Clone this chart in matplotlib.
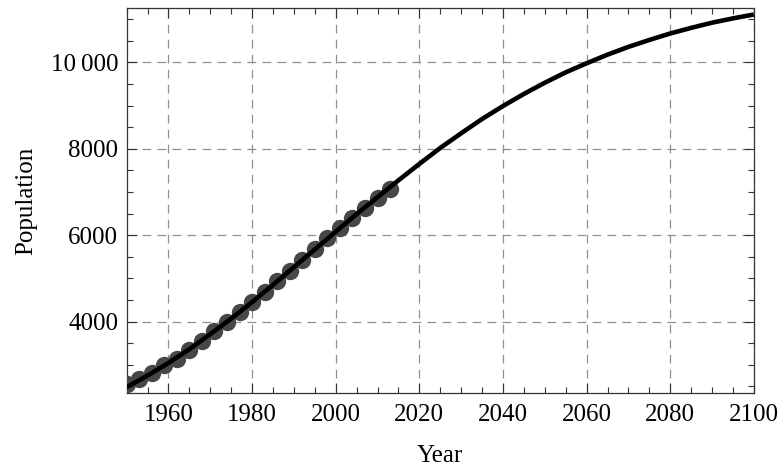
import matplotlib
matplotlib.use("Agg")
from matplotlib import pyplot as plt
from matplotlib.ticker import MultipleLocator, FixedLocator, FixedFormatter

plt.rcParams['font.family'] = ['Liberation Serif', 'DejaVu Serif']

# observed population (millions), every 3 years
years = [1950, 1953, 1956, 1959, 1962, 1965, 1968, 1971, 1974, 1977, 1980,
         1983, 1986, 1989, 1992, 1995, 1998, 2001, 2004, 2007, 2010, 2013]
population = [2550, 2670, 2820, 2985, 3140, 3340, 3550, 3770, 3990, 4220, 4450,
              4680, 4930, 5180, 5430, 5690, 5930, 6160, 6390, 6620, 6860, 7070]

# fitted model curve, every 5 years
model_years = list(range(1950, 2101, 5))
model_pop = [2480, 2750, 3040, 3360, 3710, 4070, 4450, 4850, 5260, 5670, 6080,
             6490, 6880, 7270, 7650, 8020, 8360, 8690, 8990, 9270, 9530, 9770,
             9980, 10180, 10360, 10520, 10670, 10800, 10920, 11020, 11110]

y_ticks = [4000, 6000, 8000, 10000]
y_labels = ['4000', '6000', '8000', '10\u2009000']

fig = plt.figure(figsize=(7.82, 4.71), dpi=100)
ax = fig.add_axes([0.162, 0.166, 0.802, 0.817])

ax.plot(years, population, 'o', color='#474747', markersize=12.5, markeredgewidth=0, zorder=3)
ax.plot(model_years, model_pop, '-', color='black', linewidth=3.3, zorder=4, solid_capstyle='butt')

ax.set_xlim(1950, 2100)
ax.set_ylim(2350, 11260)
ax.set_xticks([1960, 1980, 2000, 2020, 2040, 2060, 2080, 2100])
ax.xaxis.set_minor_locator(MultipleLocator(5))
ax.yaxis.set_major_locator(FixedLocator(y_ticks))
ax.yaxis.set_major_formatter(FixedFormatter(y_labels))
ax.yaxis.set_minor_locator(MultipleLocator(500))

ax.tick_params(which='both', direction='in', top=True, right=True, labelsize=18, color='#333333')
ax.tick_params(which='major', length=7, width=0.8)
ax.tick_params(which='minor', length=4, width=0.8)
ax.tick_params(axis='x', which='major', pad=8)
ax.tick_params(axis='y', which='major', pad=6)

ax.grid(True, which='major', color='#909090', linestyle=(0, (7, 5)), linewidth=0.9)
for s in ax.spines.values():
	s.set_color('#333333')
	s.set_linewidth(0.9)

ax.set_xlabel('Year', fontsize=18, labelpad=14)
ax.set_ylabel('Population', fontsize=18, labelpad=10)

fig.savefig('out.png', dpi=100)
